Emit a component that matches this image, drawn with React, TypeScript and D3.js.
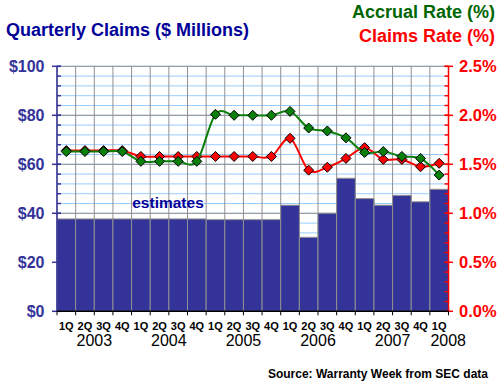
import * as d3 from 'd3';

const periods = [
    "1Q03", "2Q03", "3Q03", "4Q03",
    "1Q04", "2Q04", "3Q04", "4Q04",
    "1Q05", "2Q05", "3Q05", "4Q05",
    "1Q06", "2Q06", "3Q06", "4Q06",
    "1Q07", "2Q07", "3Q07", "4Q07",
    "1Q08",
];
const quarterLabels = periods.map(p => p.slice(0, 2));
const years = ["2003", "2004", "2005", "2006", "2007", "2008"];

// $ millions
const claims = [
    37.7, 37.7, 37.7, 37.7,
    37.7, 37.7, 37.7, 37.7,
    37.4, 37.4, 37.4, 37.4,
    43.3, 30.2, 40.0, 54.3,
    46.0, 43.3, 47.3, 44.7,
    49.8,
];
// %
const accrualRate = [
    1.63, 1.63, 1.63, 1.63,
    1.53, 1.53, 1.53, 1.53,
    2.01, 2.0, 2.0, 2.0,
    2.04, 1.87, 1.84, 1.77,
    1.62, 1.63, 1.58, 1.56,
    1.39,
];
const claimsRate = [
    1.64, 1.64, 1.64, 1.64,
    1.58, 1.58, 1.58, 1.58,
    1.58, 1.58, 1.58, 1.58,
    1.765, 1.44, 1.47, 1.56,
    1.67, 1.55, 1.55, 1.475,
    1.51,
];
const leftTicks = [0, 20, 40, 60, 80, 100];
const rightTicks = [0, 0.5, 1.0, 1.5, 2.0, 2.5];

const FONT = "'Liberation Sans', Arial, sans-serif";
const NAVY = '#333399';
const GREEN = '#0a800a';
const RED = '#ff0000';

export default function App() {
    const W = 500, H = 385;
    const left = 57, right = 448.5, top = 66.3, bottom = 311.3;

    const x = d3.scaleBand().domain(periods).range([left, right]).padding(0);
    const yL = d3.scaleLinear().domain([0, 100]).range([bottom, top]);
    const yR = d3.scaleLinear().domain([0, 2.5]).range([bottom, top]);
    const cx = (i: number) => (x(periods[i]) as number) + x.bandwidth() / 2;

    const minorVals = d3.range(0, 101, 4);
    const majorVals = d3.range(0, 101, 20);
    const rightMinor = d3.range(0, 2.501, 0.1);

    const line = d3.line<number>()
        .x((_, i) => cx(i))
        .y(d => yR(d))
        .curve(d3.curveCatmullRom.alpha(0));

    const diamond = (px: number, py: number, r = 5) =>
        `M${px},${py - r}L${px + r},${py}L${px},${py + r}L${px - r},${py}Z`;

    const yearCenter = (yi: number) => {
        const idx = periods.map((p, i) => ({ p, i })).filter(d => d.p.endsWith(years[yi].slice(2)));
        const a = x(periods[idx[0].i]) as number;
        const b = (x(periods[idx[idx.length - 1].i]) as number) + x.bandwidth();
        return (a + b) / 2 + (idx.length === 1 ? 9 : 0);
    };

    return (
        <svg width={W} height={H} style={{ position: 'absolute', left: 0, top: 0, background: '#fff' }} fontFamily={FONT}>
            {/* horizontal grid */}
            {minorVals.map(v => (
                <line key={'m' + v} x1={left} x2={right} y1={yL(v)} y2={yL(v)} stroke="#99ccff" strokeWidth={1} />
            ))}
            {majorVals.map(v => (
                <line key={'M' + v} x1={left} x2={right} y1={yL(v)} y2={yL(v)} stroke="#909090" strokeWidth={1} />
            ))}
            {/* vertical grid */}
            {periods.map(p => (
                <line key={'v' + p} x1={x(p)} x2={x(p)} y1={top} y2={bottom} stroke="#909090" strokeWidth={1} />
            ))}

            {/* bars */}
            {claims.map((v, i) => (
                <rect key={'b' + i} x={x(periods[i])} y={yL(v)} width={x.bandwidth()} height={bottom - yL(v)}
                    fill={NAVY} stroke="#909090" strokeWidth={1} />
            ))}

            <text x={168} y={208} textAnchor="middle" fontSize={15.5} fontWeight="bold" fill="#000099">estimates</text>

            {/* lines */}
            <path d={line(claimsRate) || ''} fill="none" stroke={RED} strokeWidth={2} />
            {claimsRate.map((v, i) => (
                <path key={'r' + i} d={diamond(cx(i), yR(v))} fill={RED} stroke="#000" strokeWidth={1} />
            ))}
            <path d={line(accrualRate) || ''} fill="none" stroke={GREEN} strokeWidth={2} />
            {accrualRate.map((v, i) => (
                <path key={'g' + i} d={diamond(cx(i), yR(v))} fill={GREEN} stroke="#000" strokeWidth={1} />
            ))}

            {/* left axis */}
            <line x1={left} x2={left} y1={top} y2={bottom} stroke={NAVY} strokeWidth={1.5} />
            {minorVals.map(v => (
                <line key={'lt' + v} x1={left} x2={left + 4} y1={yL(v)} y2={yL(v)} stroke={NAVY} strokeWidth={1.5} />
            ))}
            {leftTicks.map(v => (
                <g key={'lT' + v}>
                    <line x1={left - 5} x2={left + 4} y1={yL(v)} y2={yL(v)} stroke={NAVY} strokeWidth={1.5} />
                    <text x={44.5} y={yL(v)} dy="0.36em" textAnchor="end" fontSize={16} fontWeight="bold" fill={NAVY}>
                        ${v}
                    </text>
                </g>
            ))}

            {/* right axis */}
            <line x1={right} x2={right} y1={top} y2={bottom} stroke={RED} strokeWidth={1.5} />
            {rightMinor.map(v => (
                <line key={'rt' + v} x1={right - 4} x2={right} y1={yR(v)} y2={yR(v)} stroke={RED} strokeWidth={1.5} />
            ))}
            {rightTicks.map(v => (
                <g key={'rT' + v}>
                    <line x1={right - 4} x2={right + 4.5} y1={yR(v)} y2={yR(v)} stroke={RED} strokeWidth={1.5} />
                    <text x={459} y={yR(v)} dy="0.36em" textAnchor="start" fontSize={16.5} fontWeight="bold" fill={RED}>
                        {v.toFixed(1)}%
                    </text>
                </g>
            ))}

            {/* bottom axis */}
            <line x1={left} x2={right} y1={bottom} y2={bottom} stroke="#000" strokeWidth={1.5} />
            {periods.concat(['end']).map((p, i) => {
                const px = i < periods.length ? (x(p) as number) : right;
                return <line key={'bt' + i} x1={px} x2={px} y1={bottom} y2={bottom + 4} stroke="#000" strokeWidth={1} />;
            })}
            {quarterLabels.map((q, i) => (
                <text key={'q' + i} x={cx(i)} y={330} textAnchor="middle" fontSize={11} fontWeight="bold" fill="#000">
                    {q}
                </text>
            ))}
            {years.map((yr, i) => (
                <text key={yr} x={yearCenter(i)} y={345.5} textAnchor="middle" fontSize={16} fill="#000">{yr}</text>
            ))}

            {/* titles */}
            <text x={6} y={35.6} fontSize={18} fontWeight="bold" fill="#000099">Quarterly Claims ($ Millions)</text>
            <text x={495} y={18.3} textAnchor="end" fontSize={18} fontWeight="bold" fill="#006600">Accrual Rate (%)</text>
            <text x={495} y={41.6} textAnchor="end" fontSize={18} fontWeight="bold" fill={RED}>Claims Rate (%)</text>
            <text x={488} y={378} textAnchor="end" fontSize={12} fontWeight="bold" fill="#000">Source: Warranty Week from SEC data</text>
        </svg>
    );
}
